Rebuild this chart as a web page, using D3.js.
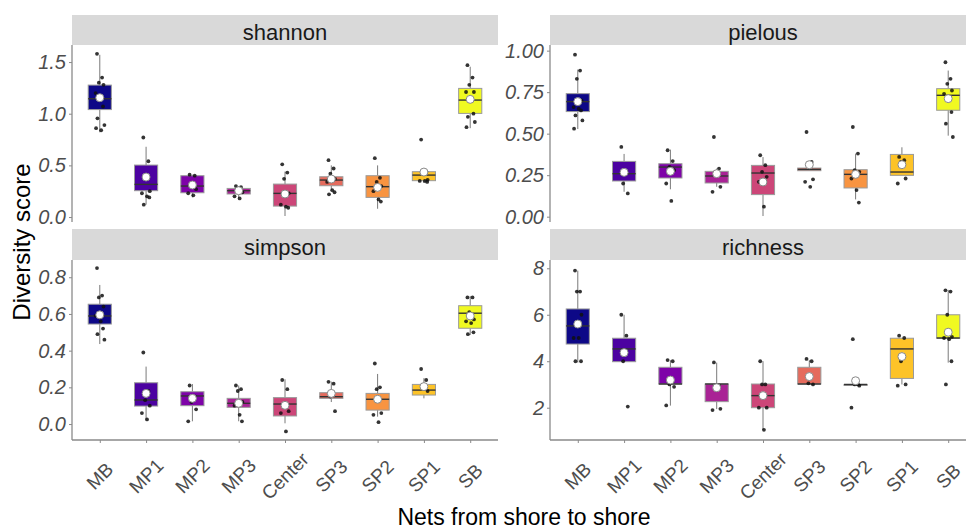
<!DOCTYPE html>
<html>
<head>
<meta charset="utf-8">
<script src="https://cdn.jsdelivr.net/npm/d3@7"></script>
<style>
  html, body { margin: 0; padding: 0; background: #ffffff; }
  svg { display: block; }
</style>
</head>
<body>
<svg id="chart" width="966" height="529"></svg>
<script>
// ---------------- DATA ----------------
const groups = ["MB", "MP1", "MP2", "MP3", "Center", "SP3", "SP2", "SP1", "SB"];
const colors = ["#0D0887", "#4C02A1", "#7E03A8", "#A92395", "#CC4678", "#E56B5D", "#F89441", "#FDC328", "#F0F921"];

const metrics = ["shannon", "pielous", "simpson", "richness"];

// shannon
const shannonLo   = [0.82, 0.12, 0.19, 0.18, 0.01, 0.26, 0.08, 0.33, 0.86];
const shannonQ1   = [1.04, 0.255, 0.235, 0.223, 0.106, 0.303, 0.19, 0.352, 1.003];
const shannonMed  = [1.145, 0.316, 0.30, 0.255, 0.229, 0.358, 0.294, 0.406, 1.132];
const shannonQ3   = [1.277, 0.503, 0.40, 0.277, 0.319, 0.39, 0.40, 0.439, 1.245];
const shannonHi   = [1.57, 0.68, 0.41, 0.30, 0.44, 0.50, 0.50, 0.45, 1.455];
const shannonMean = [1.155, 0.387, 0.31, 0.255, 0.223, 0.368, 0.287, 0.435, 1.139];
const shannonPts = [
  [1.58, 1.35, 1.30, 1.28, 1.20, 1.15, 1.07, 0.955, 0.89, 0.86, 0.84],
  [0.77, 0.54, 0.38, 0.25, 0.23, 0.20, 0.19, 0.12],
  [0.41, 0.40, 0.30, 0.27, 0.23, 0.21],
  [0.30, 0.29, 0.27, 0.24, 0.20, 0.18],
  [0.51, 0.43, 0.37, 0.23, 0.12, 0.10, 0.09],
  [0.55, 0.47, 0.42, 0.37, 0.34, 0.26, 0.24, 0.22],
  [0.57, 0.38, 0.34, 0.30, 0.25, 0.17, 0.15],
  [0.75, 0.44, 0.42, 0.36, 0.35, 0.35, 0.34],
  [1.47, 1.35, 1.28, 1.21, 1.21, 1.13, 1.00, 0.97, 0.92, 0.87]
];

// pielous
const pielousLo   = [0.528, 0.15, 0.165, 0.18, 0.004, 0.277, 0.104, 0.249, 0.488];
const pielousQ1   = [0.633, 0.215, 0.233, 0.203, 0.133, 0.277, 0.173, 0.249, 0.641];
const pielousMed  = [0.693, 0.259, 0.299, 0.245, 0.263, 0.285, 0.255, 0.269, 0.731];
const pielousQ3   = [0.741, 0.333, 0.319, 0.273, 0.309, 0.293, 0.283, 0.375, 0.771];
const pielousHi   = [0.886, 0.378, 0.404, 0.29, 0.359, 0.293, 0.38, 0.418, 0.88];
const pielousMean = [0.693, 0.267, 0.273, 0.259, 0.209, 0.313, 0.255, 0.313, 0.711];
const pielousPts = [
  [0.976, 0.88, 0.83, 0.70, 0.66, 0.65, 0.64, 0.61, 0.58, 0.53],
  [0.42, 0.27, 0.20, 0.14],
  [0.40, 0.335, 0.30, 0.28, 0.20, 0.095],
  [0.48, 0.29, 0.26, 0.18, 0.15],
  [0.37, 0.31, 0.27, 0.24, 0.21, 0.06],
  [0.51, 0.33, 0.32, 0.225, 0.21, 0.18],
  [0.54, 0.38, 0.28, 0.27, 0.23, 0.16, 0.085],
  [0.36, 0.34, 0.33, 0.23, 0.20],
  [0.93, 0.83, 0.80, 0.76, 0.74, 0.70, 0.63, 0.56, 0.48]
];

// simpson
const simpsonLo   = [0.436, 0.025, 0.015, 0.015, 0.004, 0.12, 0.04, 0.14, 0.485];
const simpsonQ1   = [0.545, 0.098, 0.10, 0.091, 0.044, 0.14, 0.076, 0.158, 0.522];
const simpsonMed  = [0.589, 0.131, 0.153, 0.113, 0.109, 0.149, 0.135, 0.185, 0.604];
const simpsonQ3   = [0.653, 0.225, 0.176, 0.14, 0.144, 0.171, 0.167, 0.216, 0.645];
const simpsonHi   = [0.758, 0.313, 0.218, 0.21, 0.244, 0.231, 0.273, 0.25, 0.698];
const simpsonMean = [0.595, 0.167, 0.14, 0.113, 0.102, 0.167, 0.135, 0.204, 0.589];
const simpsonPts = [
  [0.85, 0.70, 0.69, 0.64, 0.59, 0.56, 0.52, 0.49, 0.46],
  [0.39, 0.18, 0.13, 0.10, 0.06, 0.025],
  [0.21, 0.15, 0.12, 0.08, 0.015],
  [0.21, 0.19, 0.18, 0.12, 0.10, 0.05, 0.015],
  [0.24, 0.19, 0.11, 0.07, 0.06, -0.04],
  [0.23, 0.22, 0.15, 0.07],
  [0.33, 0.20, 0.19, 0.06, 0.05, 0.01],
  [0.30, 0.24, 0.21, 0.18],
  [0.69, 0.69, 0.61, 0.57, 0.56, 0.55, 0.50, 0.49]
];

// richness
const richnessLo   = [3.94, 3.98, 2.09, 1.94, 1.04, 3.02, 3.0, 3.0, 3.94];
const richnessQ1   = [4.74, 3.98, 3.02, 2.26, 2.0, 3.02, 3.0, 3.26, 4.99];
const richnessMed  = [5.52, 4.53, 3.02, 3.02, 2.52, 3.02, 3.0, 4.53, 5.0];
const richnessQ3   = [6.25, 4.99, 3.74, 3.02, 3.02, 3.74, 3.0, 4.99, 6.0];
const richnessHi   = [7.9, 6.0, 4.05, 3.94, 4.0, 4.05, 3.0, 5.0, 7.07];
const richnessMean = [5.6, 4.37, 3.19, 2.86, 2.52, 3.34, 3.16, 4.2, 5.25];
const richnessPts = [
  [7.9, 7.0, 7.0, 6.0, 5.0, 5.0, 4.0, 4.0],
  [6.0, 5.1, 4.0, 2.05],
  [4.05, 4.0, 3.0, 2.9, 2.1],
  [3.95, 2.95, 2.9, 1.95, 1.9],
  [4.0, 3.0, 3.0, 2.0, 2.0, 1.05],
  [4.1, 4.0, 3.05, 3.0],
  [4.95, 3.0, 3.0, 2.95, 2.0],
  [5.1, 5.0, 4.0, 3.0, 2.95],
  [7.05, 7.0, 6.0, 5.05, 5.0, 4.95, 4.0, 3.0]
];

// axis ticks
const shannonTicks  = [0, 0.5, 1.0, 1.5];
const pielousTicks  = [0, 0.25, 0.5, 0.75, 1.0];
const simpsonTicks  = [0, 0.2, 0.4, 0.6, 0.8];
const richnessTicks = [2, 4, 6, 8];

const xTitle = "Nets from shore to shore";
const yTitle = "Diversity score";

// fixed horizontal jitter pattern (category units)
const jitter = [-0.06, 0.05, -0.02, 0.08, -0.09, 0.02, 0.07, -0.05, 0.10, -0.08, 0.03];

// ---------------- LAYOUT ----------------
const svg = d3.select("#chart");
const font = "Arial, 'Liberation Sans', Helvetica, sans-serif";

const panels = [
  { name: "shannon", x0: 72, x1: 498, sTop: 15, pTop: 45, pBot: 222, domain: [-0.048, 1.665], ticks: shannonTicks, fmt: d3.format(".1f"),
    lo: shannonLo, q1: shannonQ1, med: shannonMed, q3: shannonQ3, hi: shannonHi, mean: shannonMean, pts: shannonPts, bottom: false },
  { name: "pielous", x0: 550, x1: 976, sTop: 15, pTop: 45, pBot: 222, domain: [-0.032, 1.034], ticks: pielousTicks, fmt: d3.format(".2f"),
    lo: pielousLo, q1: pielousQ1, med: pielousMed, q3: pielousQ3, hi: pielousHi, mean: pielousMean, pts: pielousPts, bottom: false },
  { name: "simpson", x0: 72, x1: 498, sTop: 229, pTop: 260, pBot: 440, domain: [-0.087, 0.894], ticks: simpsonTicks, fmt: d3.format(".1f"),
    lo: simpsonLo, q1: simpsonQ1, med: simpsonMed, q3: simpsonQ3, hi: simpsonHi, mean: simpsonMean, pts: simpsonPts, bottom: true },
  { name: "richness", x0: 550, x1: 976, sTop: 229, pTop: 260, pBot: 440, domain: [0.61, 8.357], ticks: richnessTicks, fmt: d3.format("d"),
    lo: richnessLo, q1: richnessQ1, med: richnessMed, q3: richnessQ3, hi: richnessHi, mean: richnessMean, pts: richnessPts, bottom: true }
];

const axisCol = "#8a8a8a";
const tickTextCol = "#4d4d4d";

panels.forEach(p => {
  const g = svg.append("g");
  const x = d3.scalePoint().domain(groups).range([p.x0, p.x1]).padding(0.6);
  const step = x.step();
  const y = d3.scaleLinear().domain(p.domain).range([p.pBot, p.pTop]);

  // strip
  g.append("rect").attr("x", p.x0).attr("y", p.sTop).attr("width", p.x1 - p.x0).attr("height", p.pTop - p.sTop)
    .attr("fill", "#d9d9d9");
  g.append("text").attr("x", (p.x0 + p.x1) / 2).attr("y", p.pTop - 5)
    .attr("text-anchor", "middle").attr("font-family", font).attr("font-size", 22).attr("fill", "#1a1a1a")
    .text(p.name);

  // boxes
  const bw = step * 0.5;
  groups.forEach((grp, i) => {
    const cx = x(grp);
    // whiskers
    g.append("line").attr("x1", cx).attr("x2", cx).attr("y1", y(p.hi[i])).attr("y2", y(p.q3[i]))
      .attr("stroke", "#7a7a7a").attr("stroke-width", 1);
    g.append("line").attr("x1", cx).attr("x2", cx).attr("y1", y(p.q1[i])).attr("y2", y(p.lo[i]))
      .attr("stroke", "#7a7a7a").attr("stroke-width", 1);
    // box
    g.append("rect").attr("x", cx - bw / 2).attr("y", y(p.q3[i])).attr("width", bw)
      .attr("height", Math.max(1, y(p.q1[i]) - y(p.q3[i])))
      .attr("fill", colors[i]).attr("stroke", "#9a9a9a").attr("stroke-width", 1);
    // median
    g.append("line").attr("x1", cx - bw / 2).attr("x2", cx + bw / 2).attr("y1", y(p.med[i])).attr("y2", y(p.med[i]))
      .attr("stroke", "#333333").attr("stroke-width", 1.4);
    // jitter points
    p.pts[i].forEach((v, k) => {
      g.append("circle").attr("cx", cx + jitter[k % jitter.length] * step).attr("cy", y(v)).attr("r", 1.9)
        .attr("fill", "#111111").attr("fill-opacity", 0.85);
    });
    // mean
    g.append("circle").attr("cx", cx).attr("cy", y(p.mean[i])).attr("r", 4)
      .attr("fill", "#ffffff").attr("stroke", "#888888").attr("stroke-width", 1);
  });

  // y axis
  const ya = d3.axisLeft(y).tickValues(p.ticks).tickFormat(p.fmt).tickSize(3).tickPadding(3);
  const yg = g.append("g").attr("transform", `translate(${p.x0},0)`).call(ya);
  yg.select(".domain").remove();
  yg.append("line").attr("x1", 0).attr("x2", 0).attr("y1", p.pTop).attr("y2", p.pBot)
    .attr("stroke", axisCol).attr("stroke-width", 1.3);
  yg.selectAll(".tick line").attr("stroke", axisCol);
  yg.selectAll(".tick text").attr("font-family", font).attr("font-size", 20).attr("font-style", "italic")
    .attr("fill", tickTextCol);

  if (p.bottom) {
    const xa = d3.axisBottom(x).tickSize(3).tickFormat("");
    const xg = g.append("g").attr("transform", `translate(0,${p.pBot})`).call(xa);
    xg.select(".domain").remove();
    xg.append("line").attr("x1", p.x0).attr("x2", p.x1).attr("y1", 0).attr("y2", 0)
      .attr("stroke", axisCol).attr("stroke-width", 1.3);
    xg.selectAll(".tick line").attr("stroke", axisCol);
    groups.forEach(grp => {
      const tx = x(grp), ty = p.pBot + 36;
      g.append("text").attr("transform", `translate(${tx},${ty}) rotate(-45)`)
        .attr("text-anchor", "middle").attr("dy", "0.35em")
        .attr("font-family", font).attr("font-size", 19).attr("fill", tickTextCol)
        .text(grp);
    });
  }
});

// axis titles
svg.append("text").attr("x", 524).attr("y", 525).attr("text-anchor", "middle")
  .attr("font-family", font).attr("font-size", 23).attr("fill", "#000000").text(xTitle);
svg.append("text").attr("transform", "translate(30,242) rotate(-90)").attr("text-anchor", "middle")
  .attr("font-family", font).attr("font-size", 24).attr("fill", "#000000").text(yTitle);
</script>
</body>
</html>
